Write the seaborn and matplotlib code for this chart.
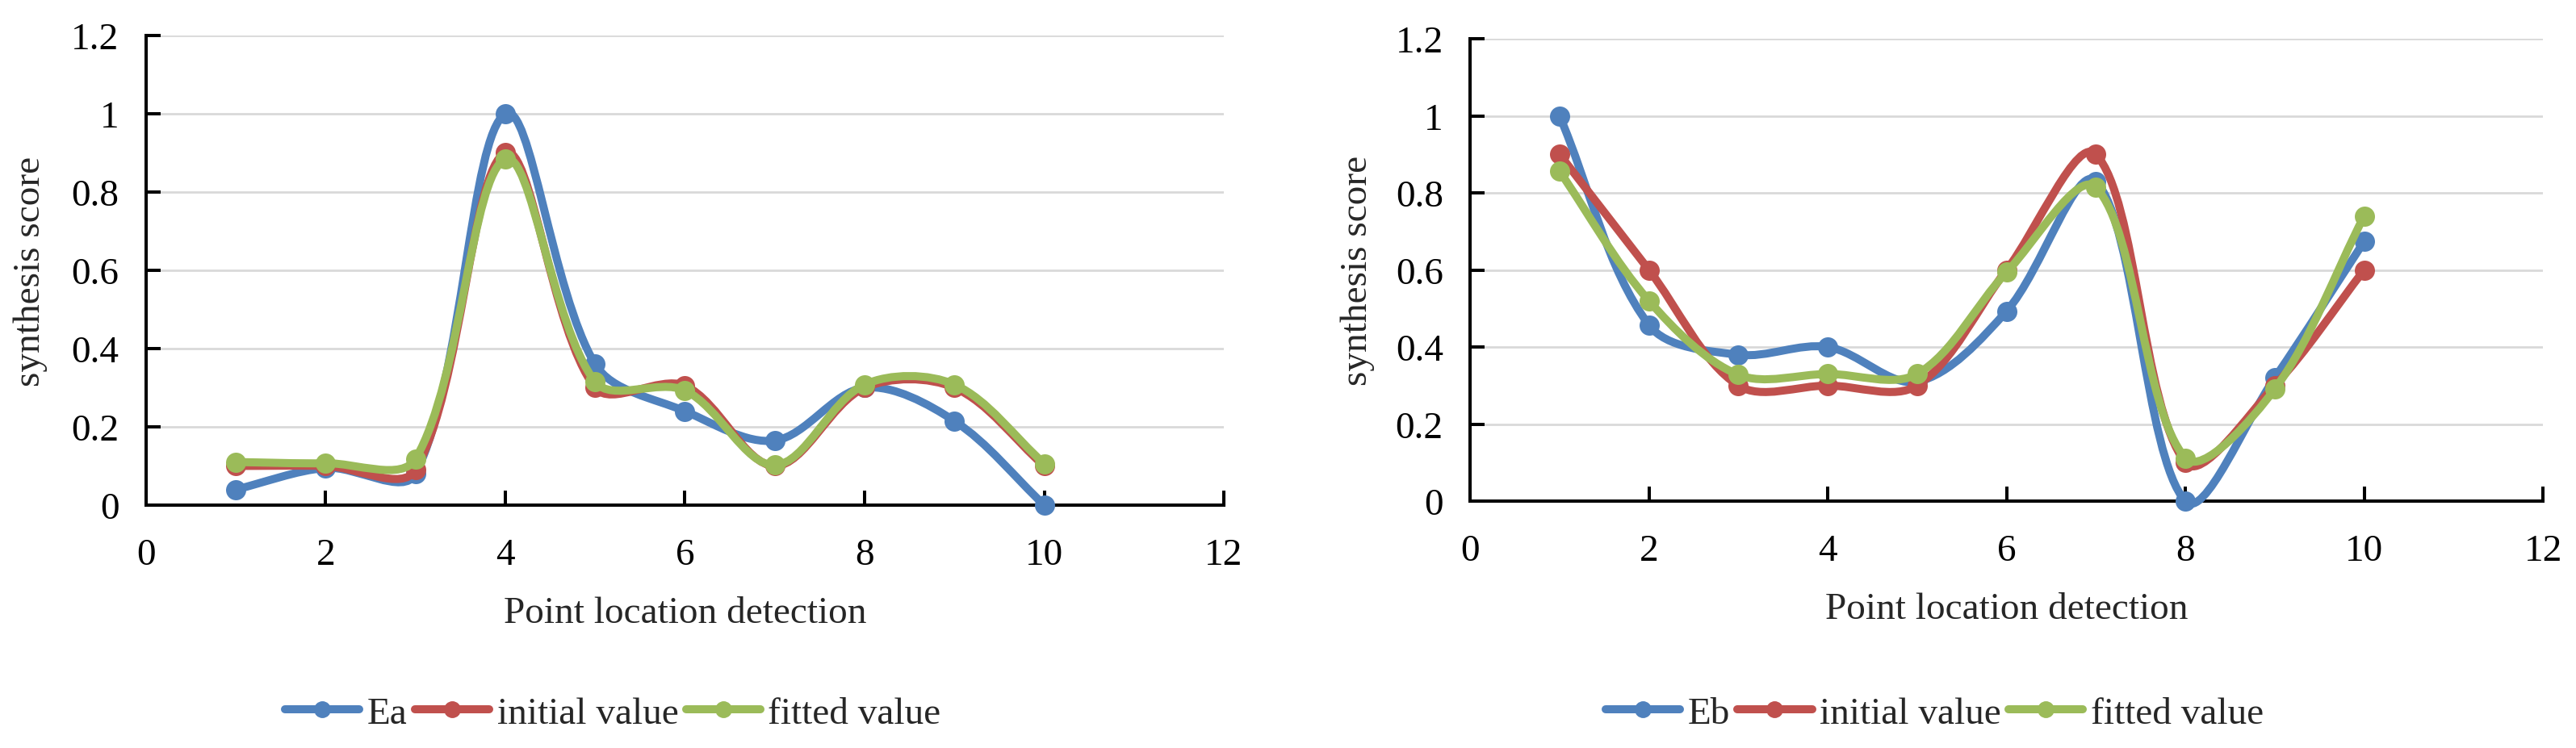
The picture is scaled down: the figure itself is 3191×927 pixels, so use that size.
import numpy as np
import matplotlib
matplotlib.use("Agg")
import matplotlib.pyplot as plt
import seaborn as sns
from matplotlib.path import Path
from matplotlib.patches import PathPatch
from matplotlib.lines import Line2D

# данные
points = [1, 2, 3, 4, 5, 6, 7, 8, 9, 10]

ea = [0.04, 0.095, 0.08, 1.0, 0.36, 0.24, 0.165, 0.30, 0.215, 0.0]
ea_initial = [0.10, 0.10, 0.09, 0.90, 0.30, 0.305, 0.10, 0.30, 0.30, 0.10]
ea_fitted = [0.11, 0.107, 0.118, 0.884, 0.315, 0.293, 0.102, 0.308, 0.308, 0.106]

eb = [1.0, 0.457, 0.38, 0.40, 0.31, 0.493, 0.83, 0.0, 0.32, 0.674]
eb_initial = [0.90, 0.60, 0.30, 0.30, 0.30, 0.60, 0.90, 0.10, 0.30, 0.60]
eb_fitted = [0.856, 0.52, 0.328, 0.33, 0.33, 0.594, 0.814, 0.112, 0.291, 0.74]

x_ticks = [0, 2, 4, 6, 8, 10, 12]
y_ticks = [0, 0.2, 0.4, 0.6, 0.8, 1.0, 1.2]
y_tick_labels = ["0", "0.2", "0.4", "0.6", "0.8", "1", "1.2"]

series_names_a = ["Ea", "initial value", "fitted value"]
series_names_b = ["Eb", "initial value", "fitted value"]
colors = ["#4F81BD", "#C0504D", "#9BBB59"]

sns.set_theme(style="white")
plt.rcParams["font.family"] = ["Liberation Serif", "DejaVu Serif"]

FS = 34
LW = 7.2
MS = 18


def smooth_path(ax, xs, ys):
    # сглаживание как в Excel: Безье, касательные взвешены по длинам отрезков (в пикселях)
    to_px = ax.transData
    p = to_px.transform(np.column_stack([xs, ys]).astype(float))
    n = len(p)
    left = np.zeros_like(p)
    right = np.zeros_like(p)
    for i in range(n):
        a = p[max(i - 1, 0)]
        b = p[min(i + 1, n - 1)]
        t = b - a
        dl = np.hypot(*(p[i] - a))
        dr = np.hypot(*(b - p[i]))
        tot = dl + dr if dl + dr > 0 else 1.0
        left[i] = p[i] - t * dl / tot / 3
        right[i] = p[i] + t * dr / tot / 3
    verts = [p[0]]
    codes = [Path.MOVETO]
    for i in range(n - 1):
        verts += [right[i], left[i + 1], p[i + 1]]
        codes += [Path.CURVE4] * 3
    verts = to_px.inverted().transform(np.array(verts))
    return Path(verts, codes)


def draw_panel(ax, series, names, legend_x, xlabel_y, ylabel_x):
    ax.set_xlim(0, 12)
    ax.set_ylim(0, 1.2)

    for k, (vals, name, c) in enumerate(zip(series, names, colors)):
        patch = PathPatch(smooth_path(ax, points, vals), facecolor="none", edgecolor=c,
                          linewidth=LW, capstyle="round", joinstyle="round",
                          zorder=5 + k, clip_on=False)
        ax.add_patch(patch)
        sns.scatterplot(x=points, y=vals, color=c, s=MS ** 2, linewidth=0,
                        zorder=5 + k, clip_on=False, legend=False, ax=ax)

    ax.set_xlim(0, 12)
    ax.set_ylim(0, 1.2)
    ax.set_xticks(x_ticks)
    ax.set_yticks(y_ticks)
    ax.set_yticklabels(y_tick_labels)
    ax.yaxis.grid(True, color="#d9d9d9", linewidth=2.0)
    ax.xaxis.grid(False)
    ax.set_axisbelow(True)

    for s in ["top", "right"]:
        ax.spines[s].set_visible(False)
    for s in ["left", "bottom"]:
        ax.spines[s].set_color("black")
        ax.spines[s].set_linewidth(2.9)

    ax.tick_params(axis="both", direction="in", length=13, width=2.9,
                   colors="black", labelsize=FS)
    ax.tick_params(axis="x", pad=29, bottom=True)
    ax.tick_params(axis="y", pad=24, left=True)

    ax.set_xlabel("Point location detection", fontsize=FS)
    ax.xaxis.set_label_coords(0.5, xlabel_y)
    ax.set_ylabel("synthesis score", fontsize=FS)
    ax.yaxis.set_label_coords(ylabel_x, 0.5)

    handles = [Line2D([], [], color=c, linewidth=LW, marker="o", markersize=14)
               for c in colors]
    ax.legend(handles, names, loc="center", bbox_to_anchor=(legend_x, 0.046),
              bbox_transform=ax.figure.transFigure, ncol=3, frameon=False,
              fontsize=FS, handlelength=1.95, handletextpad=0.2, columnspacing=0.2)


fig = plt.figure(figsize=(31.91, 9.28), dpi=100)
ax1 = fig.add_axes([0.0567, 0.3244, 0.4184, 0.6271])
ax2 = fig.add_axes([0.5707, 0.3297, 0.4165, 0.6175])

draw_panel(ax1, [ea, ea_initial, ea_fitted], series_names_a, 0.238, -0.194, -0.0914)
draw_panel(ax2, [eb, eb_initial, eb_fitted], series_names_b, 0.751, -0.197, -0.0888)

fig.savefig("out.png", dpi=100)
